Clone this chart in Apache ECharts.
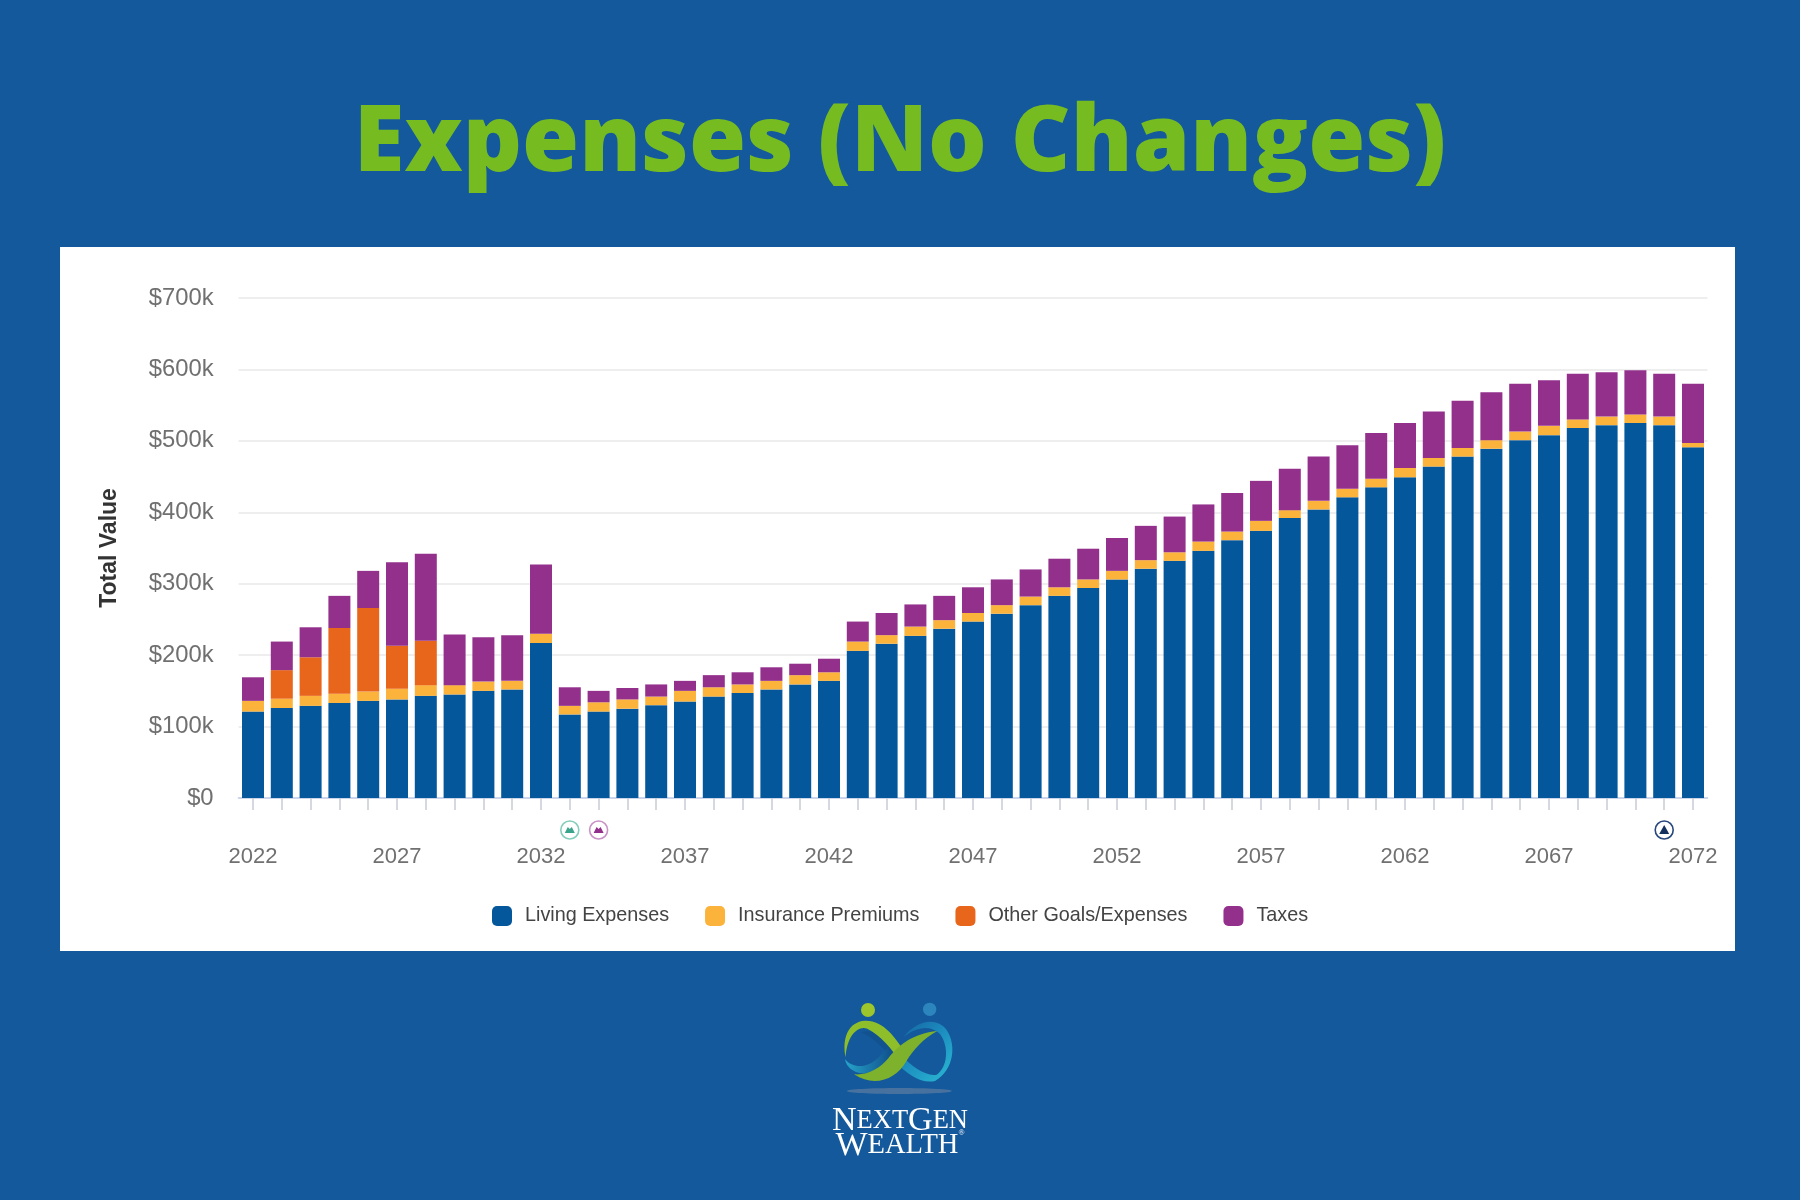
<!DOCTYPE html>
<html>
<head>
<meta charset="utf-8">
<title>Expenses (No Changes)</title>
<style>
  html, body { margin: 0; padding: 0; background: #14599c; }
  #main { width: 1800px; height: 1200px; }
</style>
<script src="https://cdn.jsdelivr.net/npm/echarts@6/dist/echarts.min.js"></script>
</head>
<body>
<div id="main"></div>
<script>
const years = ['2022','2023','2024','2025','2026','2027','2028','2029','2030','2031',
  '2032','2033','2034','2035','2036','2037','2038','2039','2040','2041',
  '2042','2043','2044','2045','2046','2047','2048','2049','2050','2051',
  '2052','2053','2054','2055','2056','2057','2058','2059','2060','2061',
  '2062','2063','2064','2065','2066','2067','2068','2069','2070','2071','2072'];

// all values in $k
const livingExpenses = [121,126,129,133,136,138,143,145,150,152,
  217,117,121,125,130,135,142,147,152,159,
  164,206,216,227,237,247,258,270,283,294,
  306,321,332,346,361,374,392,404,421,435,
  449,464,478,489,501,508,518,522,525,522,491];
const insurancePremiums = [15,13,14,13,13,15,15,13,13,12,
  13,12,13,13,12,15,13,12,12,13,
  12,13,12,13,12,12,12,12,12,12,
  12,12,12,13,12,14,11,12,12,12,
  13,12,12,12,12,13,12,12,12,12,6];
const otherGoals = [0,40,54,92,117,60,62,0,0,0,
  0,0,0,0,0,0,0,0,0,0,
  0,0,0,0,0,0,0,0,0,0,
  0,0,0,0,0,0,0,0,0,0,
  0,0,0,0,0,0,0,0,0,0,0];
const taxes = [33,40,42,45,52,117,122,71,62,64,
  97,26,16,16,17,14,17,17,19,16,
  19,28,31,31,34,36,36,38,40,43,
  46,48,50,52,54,56,58,62,61,64,
  63,65,66,67,67,64,64,62,62,60,83];

const eventYears = ['2033','2034','2071'];
const eventRing = ['#86cdbb','#c893c6','#27477d'];
const eventFill = ['#3aa58c','#93308c','#14305f'];

const BLUE = '#04579b', YELLOW = '#fbb33c', ORANGE = '#e8651c', PURPLE = '#93308c';

function barSeries(name, data, color) {
  return { name: name, type: 'bar', stack: 'total', barWidth: 22, data: data, itemStyle: { color: color } };
}

// the little round markers under the axis
function renderEvent(params, api) {
  const p = api.coord([api.value(0), 0]);
  const i = params.dataIndex;
  const cx = p[0], cy = p[1] + 32;
  const glyph = i === 2
    ? { type: 'polygon', shape: { points: [[cx - 5, cy + 4], [cx + 5, cy + 4], [cx, cy - 5]] }, style: { fill: eventFill[i] } }
    : { type: 'polygon', shape: { points: [[cx - 5, cy + 3], [cx + 5, cy + 3], [cx + 3, cy - 1], [cx + 2, cy - 3], [cx, cy - 1], [cx - 2, cy - 3], [cx - 3, cy - 1]] }, style: { fill: eventFill[i] } };
  return {
    type: 'group',
    children: [
      { type: 'circle', shape: { cx: cx, cy: cy, r: 9 }, style: { fill: '#fff', stroke: eventRing[i], lineWidth: 1.6 } },
      glyph
    ]
  };
}

// logo, drawn in the 3x crop coordinates it was measured in
function renderLogo() {
  const teal = new echarts.graphic.LinearGradient(0, 0, 1, 1, [
    { offset: 0, color: '#155f9f' }, { offset: 0.5, color: '#1d8fc0' }, { offset: 1, color: '#2bbbd3' }
  ]);
  const lowerLeft = new echarts.graphic.LinearGradient(0, 0, 1, 0, [
    { offset: 0, color: '#26a5c9' }, { offset: 1, color: '#0f4f8c' }
  ]);
  return {
    type: 'group',
    x: 780,
    y: 980,
    scaleX: 1 / 3,
    scaleY: 1 / 3,
    children: [
      { type: 'circle', shape: { cx: 264, cy: 90, r: 21 }, style: { fill: '#9cc62b' } },
      { type: 'circle', shape: { cx: 449, cy: 88, r: 20 }, style: { fill: '#2c86bd' } },
      { type: 'ellipse', shape: { cx: 358, cy: 333, rx: 158, ry: 9 }, style: { fill: '#47719f' } },
      { type: 'path', shape: { pathData: 'M 370,172 C 410,120 470,110 500,150 C 530,195 522,270 465,303 C 420,312 380,280 345,245 L 362,222 C 395,262 440,290 470,284 C 503,262 508,200 480,162 C 450,132 405,142 370,172 Z' }, style: { fill: teal } },
      { type: 'path', shape: { pathData: 'M 243,157 C 280,145 320,170 362,222 L 345,245 C 310,205 285,175 243,157 Z' }, style: { fill: '#12528f' } },
      { type: 'path', shape: { pathData: 'M 195,238 C 222,270 270,262 300,228 L 322,205 L 338,226 C 305,270 262,288 228,276 C 208,268 198,254 195,238 Z' }, style: { fill: lowerLeft } },
      { type: 'path', shape: { pathData: 'M 197,232 C 185,175 205,125 255,122 C 310,120 345,170 385,232 L 362,248 C 335,205 300,165 262,146 C 232,135 200,170 197,232 Z' }, style: { fill: '#8ebf2b' } },
      { type: 'path', shape: { pathData: 'M 222,283 C 262,287 300,265 325,235 C 355,195 400,160 472,153 C 430,175 400,210 378,245 C 350,295 285,325 222,283 Z' }, style: { fill: '#7fb22c' } }
    ]
  };
}

const wordmark = [
  { y: 1121, rich: '{a|N}{b|EXT}{a|G}{b|EN}', big: 34, small: 26.5 },
  { y: 1146, rich: '{a|W}{b|EALTH}{c|®}', big: 34, small: 28.5 }
].map(function (line) {
  return {
    type: 'text',
    x: 900,
    y: line.y,
    style: {
      text: line.rich,
      align: 'center',
      verticalAlign: 'middle',
      fill: '#fff',
      rich: {
        a: { fontFamily: 'Liberation Serif', fontSize: line.big, fill: '#fff' },
        b: { fontFamily: 'Liberation Serif', fontSize: line.small, fill: '#fff' },
        c: { fontFamily: 'Liberation Serif', fontSize: 8, fill: '#fff', verticalAlign: 'top' }
      }
    }
  };
});

const chart = echarts.init(document.getElementById('main'));
chart.setOption({
  animation: false,
  backgroundColor: '#14599c',
  textStyle: { fontFamily: 'Liberation Sans' },
  title: {
    text: 'Expenses (No Changes)',
    left: 'center',
    top: 94,
    textStyle: { color: '#76bc21', fontFamily: 'Open Sans', fontWeight: 800, fontSize: 92.4 }
  },
  graphic: {
    elements: [
      { type: 'rect', z: -1, shape: { x: 60, y: 247, width: 1675, height: 704 }, style: { fill: '#fff' } }
    ].concat(wordmark)
  },
  legend: {
    left: 487,
    top: 901,
    icon: 'roundRect',
    itemWidth: 20,
    itemHeight: 20,
    itemGap: 36,
    data: ['Living Expenses', 'Insurance Premiums', 'Other Goals/Expenses', 'Taxes'],
    textStyle: { color: '#444', fontSize: 19.8, padding: [0, 0, 0, 8] }
  },
  grid: { left: 238.6, right: 92.6, top: 298, bottom: 402 },
  xAxis: {
    type: 'category',
    data: years,
    axisLine: { show: true, lineStyle: { color: '#ccd6eb', width: 2 } },
    axisTick: { show: true, alignWithLabel: true, interval: 0, length: 12, lineStyle: { color: '#c8ccd4', width: 1.5 } },
    axisLabel: { interval: 4, margin: 48, color: '#707070', fontSize: 22 }
  },
  yAxis: {
    type: 'value',
    min: 0,
    max: 700,
    interval: 100,
    name: 'Total Value',
    nameLocation: 'middle',
    nameGap: 117,
    nameTextStyle: { color: '#333', fontWeight: 'bold', fontSize: 23 },
    axisLabel: {
      margin: 25,
      color: '#707070',
      fontSize: 23.8,
      formatter: function (v) { return v === 0 ? '$0' : '$' + v + 'k'; }
    },
    splitLine: { lineStyle: { color: '#e8e8e8', width: 1.5 } }
  },
  series: [
    barSeries('Living Expenses', livingExpenses, BLUE),
    barSeries('Insurance Premiums', insurancePremiums, YELLOW),
    barSeries('Other Goals/Expenses', otherGoals, ORANGE),
    barSeries('Taxes', taxes, PURPLE),
    { type: 'custom', renderItem: renderEvent, encode: { x: 0, y: 1 }, data: eventYears.map(function (y) { return [y, 0]; }), z: 5 },
    { type: 'custom', coordinateSystem: 'none', renderItem: renderLogo, data: [[0]], silent: true }
  ]
});
</script>
</body>
</html>
